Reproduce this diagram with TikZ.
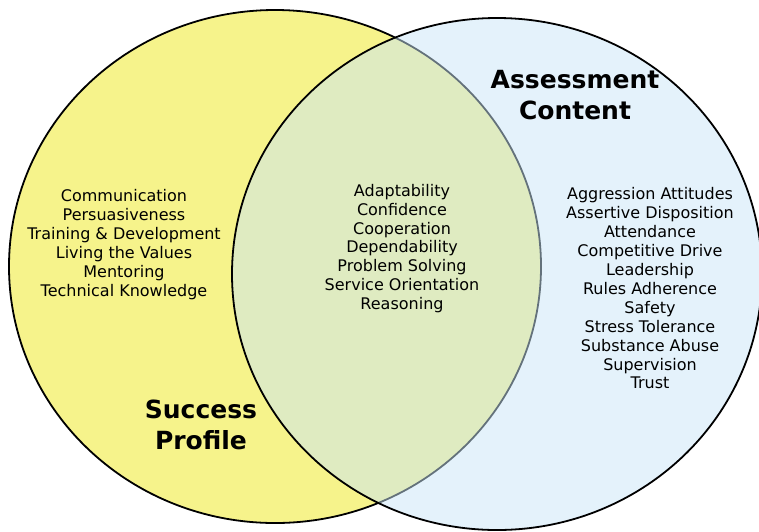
\documentclass[tikz,border=0pt]{standalone}
\usepackage{fontspec}
\setmainfont{DejaVu Sans}
\begin{document}
\begin{tikzpicture}[x=1pt,y=-1pt,
  setfill/.style={draw=black,line width=1.8pt},
  itemlist/.style={align=center,inner sep=0pt,font=\fontsize{16}{18.9}\selectfont},
  heading/.style={align=center,inner sep=0pt,font=\fontsize{25}{31}\selectfont\bfseries}]
\definecolor{profileyellow}{RGB}{246,243,139}
\definecolor{contentblue}{RGB}{201,229,247}
\useasboundingbox (0,0) rectangle (759,531);
\clip (0,0) rectangle (759,531);
% the two sets: the blue one is half transparent over the yellow one
\path[setfill,fill=profileyellow] (275,266.5) ellipse [x radius=266,y radius=256.5];
\path[fill=contentblue,fill opacity=0.5] (497,274) ellipse [x radius=265,y radius=256];
\path[setfill] (497,274) ellipse [x radius=265,y radius=256];
% headings
\node[heading] (assess) at (575,95.5) {Assessment\\Content};
\node[heading] (success) at (201,425) {Success\\Profile};
% item lists
\node[itemlist] (left) at (124,244.5) {Communication\\Persuasiveness\\Training \& Development\\Living the Values\\Mentoring\\Technical Knowledge};
\node[itemlist] (mid) at (402,248.5) {Adaptability\\Confidence\\Cooperation\\Dependability\\Problem Solving\\Service Orientation\\Reasoning};
\node[itemlist] (right) at (650,288.5) {Aggression Attitudes\\Assertive Disposition\\Attendance\\Competitive Drive\\Leadership\\Rules Adherence\\Safety\\Stress Tolerance\\Substance Abuse\\Supervision\\Trust};
\end{tikzpicture}
\end{document}
